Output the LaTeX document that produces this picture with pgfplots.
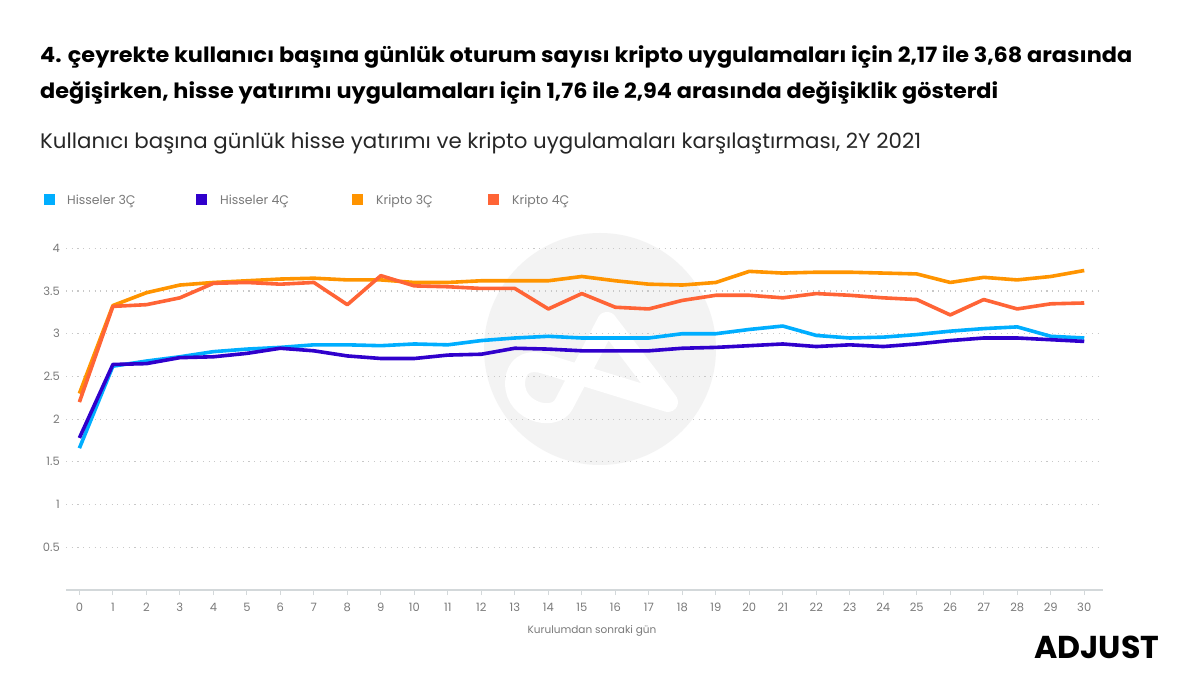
\documentclass[border=0pt]{standalone}
\usepackage{pgfplots}
\pgfplotsset{compat=1.18}
\usepackage{pgfplotstable}
\usepackage{fontspec}
\setmainfont{Poppins}
\definecolor{hthree}{HTML}{00AEFF}
\definecolor{hfour}{HTML}{3000CC}
\definecolor{kthree}{HTML}{FF9400}
\definecolor{kfour}{HTML}{FF6436}
\definecolor{txtgray}{HTML}{7A7A7A}
\definecolor{gridgray}{HTML}{C8C8C8}
\definecolor{axgray}{HTML}{D3D8DA}
\definecolor{wm}{HTML}{F3F3F3}
\pgfplotstableread{
x h3 h4 k3 k4
0 1.66 1.78 2.30 2.20
1 2.62 2.64 3.33 3.32
2 2.68 2.65 3.48 3.34
3 2.73 2.72 3.57 3.42
4 2.79 2.73 3.60 3.59
5 2.82 2.77 3.62 3.60
6 2.84 2.83 3.64 3.58
7 2.87 2.80 3.65 3.60
8 2.87 2.74 3.63 3.34
9 2.86 2.71 3.63 3.68
10 2.88 2.71 3.60 3.56
11 2.87 2.75 3.60 3.55
12 2.92 2.76 3.62 3.53
13 2.95 2.83 3.62 3.53
14 2.97 2.82 3.62 3.29
15 2.95 2.80 3.67 3.47
16 2.95 2.80 3.62 3.31
17 2.95 2.80 3.58 3.29
18 3.00 2.83 3.57 3.39
19 3.00 2.84 3.60 3.45
20 3.05 2.86 3.73 3.45
21 3.09 2.88 3.71 3.42
22 2.98 2.85 3.72 3.47
23 2.95 2.87 3.72 3.45
24 2.96 2.85 3.71 3.42
25 2.99 2.88 3.70 3.40
26 3.03 2.92 3.60 3.22
27 3.06 2.95 3.66 3.40
28 3.08 2.95 3.63 3.29
29 2.97 2.93 3.67 3.35
30 2.95 2.91 3.74 3.36
}\datatable
\begin{document}
\begin{tikzpicture}[x=1pt,y=1pt]
\path[fill=white,use as bounding box] (0,0) rectangle (1200,697);
\begin{scope}[yshift=697pt,yscale=-1]
% watermark
\fill[wm] (600,349) circle (116);
\draw[white,line width=20pt,line cap=round,line join=round] (668,402) -- (607,322) -- (564,404) .. controls (554,424) and (508,410) .. (516,376) .. controls (519,364) and (530,359) .. (545,364) -- (668,402);
% titles
\node[anchor=base west,inner sep=0pt,font=\fontsize{21}{24}\selectfont\bfseries] at (40,62.3) {\resizebox{1092pt}{\height}{4. çeyrekte kullanıcı başına günlük oturum sayısı kripto uygulamaları için 2,17 ile 3,68 arasında}};
\node[anchor=base west,inner sep=0pt,font=\fontsize{21}{24}\selectfont\bfseries] at (40,98.3) {\resizebox{958pt}{\height}{değişirken, hisse yatırımı uygulamaları için 1,76 ile 2,94 arasında değişiklik gösterdi}};
\node[anchor=base west,inner sep=0pt,font=\fontsize{21}{24}\selectfont,text=black!85] at (40,148.3) {\resizebox{881pt}{\height}{Kullanıcı başına günlük hisse yatırımı ve kripto uygulamaları karşılaştırması, 2Y 2021}};
% legend
\fill[hthree] (44,194) rectangle (55,205);
\fill[hfour] (196,194) rectangle (207,205);
\fill[kthree] (352,194) rectangle (363,205);
\fill[kfour] (488,194) rectangle (499,205);
\node[anchor=base west,inner sep=0pt,font=\fontsize{12.5}{15}\selectfont,text=txtgray] at (67,204.5) {Hisseler 3Ç};
\node[anchor=base west,inner sep=0pt,font=\fontsize{12.5}{15}\selectfont,text=txtgray] at (220,204.5) {Hisseler 4Ç};
\node[anchor=base west,inner sep=0pt,font=\fontsize{12.5}{15}\selectfont,text=txtgray] at (376,204.5) {Kripto 3Ç};
\node[anchor=base west,inner sep=0pt,font=\fontsize{12.5}{15}\selectfont,text=txtgray] at (512,204.5) {Kripto 4Ç};
% x label
\node[anchor=center,inner sep=0pt,font=\fontsize{10.5}{13}\selectfont,text=txtgray] at (592,631) {Kurulumdan sonraki gün};
% logo
\node[anchor=west,inner sep=0pt] at (1034,647) {\resizebox{125pt}{!}{\fontsize{30}{32}\selectfont\bfseries ADJUST}};
\end{scope}
\begin{axis}[
  at={(66pt,107pt)}, anchor=south west,
  scale only axis, width=1037pt, height=341.7pt,
  xmin=-0.4, xmax=30.56, ymin=0, ymax=4,
  axis x line*=bottom, axis y line*=left,
  y axis line style={draw=none},
  x axis line style={draw=axgray,line width=1.5pt,-},
  xtick={0,...,30},
  ytick={0.5,1,1.5,2,2.5,3,3.5,4},
  tick align=outside,
  major tick length=5pt,
  xtick style={draw=axgray,line width=1.2pt},
  ytick style={draw=none},
  ymajorgrids,
  grid style={draw=gridgray,line width=1.1pt,dash pattern=on 1.1pt off 4.6pt},
  /pgf/number format/assume math mode=true,
  ticklabel style={font=\fontsize{11.5}{14}\selectfont,text=txtgray},
  yticklabel style={inner sep=0pt,xshift=-1pt},
  xticklabel style={inner sep=0pt,yshift=-8pt},
  line join=round,
]
\addplot[hthree,line width=3.6pt] table[x=x,y=h3] {\datatable};
\addplot[hfour,line width=3.6pt] table[x=x,y=h4] {\datatable};
\addplot[kthree,line width=3.6pt] table[x=x,y=k3] {\datatable};
\addplot[kfour,line width=3.6pt] table[x=x,y=k4] {\datatable};
\end{axis}
\end{tikzpicture}
\end{document}
